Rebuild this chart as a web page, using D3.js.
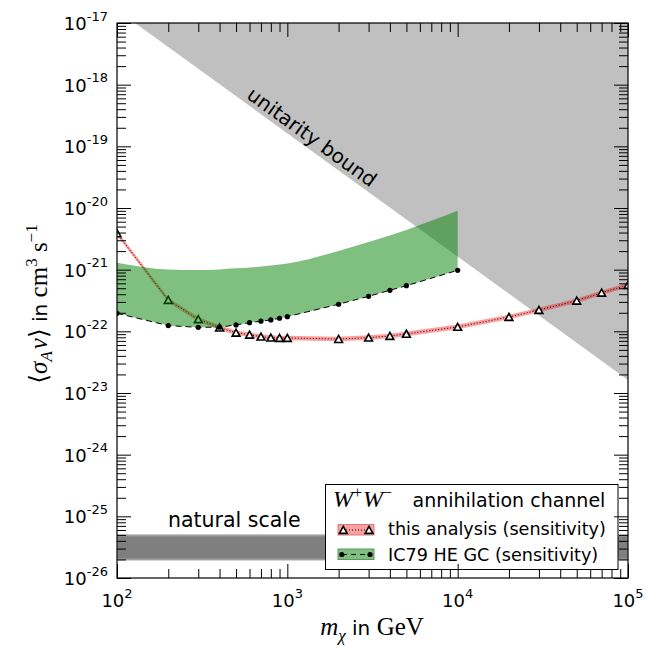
<!DOCTYPE html>
<html>
<head>
<meta charset="utf-8">
<script src="https://cdn.jsdelivr.net/npm/d3@7"></script>
<style>
  html, body { margin: 0; padding: 0; background: #fff; }
  svg { display: block; }
</style>
</head>
<body>
<div id="chart"></div>
<script>
// ---------------- data ----------------
const xDomain = [100, 100000];
const yDomain = [1e-26, 1e-17];
const xMajorTicks = [100, 1000, 10000, 100000];
const xTickExponents = ["2", "3", "4", "5"];
const yMajorTicks = [1e-26, 1e-25, 1e-24, 1e-23, 1e-22, 1e-21, 1e-20, 1e-19, 1e-18, 1e-17];
const yTickExponents = ["-26", "-25", "-24", "-23", "-22", "-21", "-20", "-19", "-18", "-17"];

// IC79 HE GC sensitivity (green band, lower edge = dashed line with dots)
const ic79Mass  = [100, 200, 300, 400, 500, 600, 700, 800, 900, 1000, 2000, 3000, 4000, 5000, 10000];
const ic79Lower = [1.96e-22, 1.24e-22, 1.16e-22, 1.17e-22, 1.27e-22, 1.38e-22, 1.46e-22, 1.53e-22, 1.63e-22, 1.73e-22, 2.75e-22, 3.70e-22, 4.63e-22, 5.50e-22, 9.77e-22];
const ic79Upper = [1.30e-21, 1.01e-21, 9.9e-22, 1.01e-21, 1.05e-21, 1.08e-21, 1.13e-21, 1.17e-21, 1.21e-21, 1.26e-21, 2.01e-21, 2.81e-21, 3.58e-21, 4.40e-21, 9.0e-21];

// this analysis sensitivity (red band with dotted line and triangles)
const thisMass  = [100, 200, 300, 400, 500, 600, 700, 800, 900, 1000, 2000, 3000, 4000, 5000, 10000, 20000, 30000, 50000, 70000, 100000];
const thisValue = [3.89e-21, 3.22e-22, 1.57e-22, 1.15e-22, 9.5e-23, 8.8e-23, 8.2e-23, 7.9e-23, 7.8e-23, 7.8e-23, 7.5e-23, 7.9e-23, 8.4e-23, 9.1e-23, 1.18e-22, 1.71e-22, 2.22e-22, 3.14e-22, 4.23e-22, 5.65e-22];
const thisBandFactor = 1.09;

// unitarity bound (gray region above the line)
const unitarityMass  = [127.6, 100000, 100000];
const unitarityValue = [1e-17, 1.63e-23, 1e-17];

// natural scale band
const naturalRange = [2.0e-26, 4.9e-26];

// text
const legendTitle = "annihilation channel";
const legendLabels = ["this analysis (sensitivity)", "IC79 HE GC (sensitivity)"];

// ---------------- layout ----------------
const W = 652, H = 647;
const L = 117, R = 628, T = 23, B = 578;
const SANS = "'DejaVu Sans', sans-serif";
const SERIF = "'Liberation Serif', 'DejaVu Serif', serif";

const svg = d3.select("#chart").append("svg").attr("width", W).attr("height", H);

const x = d3.scaleLog().domain(xDomain).range([L, R]);
const y = d3.scaleLog().domain(yDomain).range([B, T]);

svg.append("clipPath").attr("id", "plotclip")
  .append("rect").attr("x", L).attr("y", T).attr("width", R - L).attr("height", B - T);

const plot = svg.append("g").attr("clip-path", "url(#plotclip)");

// unitarity region
plot.append("path")
  .attr("d", d3.line()(unitarityMass.map((m, i) => [x(m), y(unitarityValue[i])])) + "Z")
  .attr("fill", "#c0c0c0");

// natural scale band
plot.append("rect")
  .attr("x", x(xDomain[0])).attr("width", x(xDomain[1]) - x(xDomain[0]))
  .attr("y", y(naturalRange[1])).attr("height", y(naturalRange[0]) - y(naturalRange[1]))
  .attr("fill", "#7f7f7f").attr("stroke", "#9e9e9e").attr("stroke-width", 2);

// this analysis
const thisData = thisMass.map((m, i) => ({ m, v: thisValue[i] }));
plot.append("path")
  .attr("d", d3.area().x(d => x(d.m)).y0(d => y(d.v / thisBandFactor)).y1(d => y(d.v * thisBandFactor))(thisData))
  .attr("fill", "red").attr("fill-opacity", 0.38);
plot.append("path")
  .attr("d", d3.line().x(d => x(d.m)).y(d => y(d.v))(thisData))
  .attr("fill", "none").attr("stroke", "#000").attr("stroke-width", 1).attr("stroke-dasharray", "1,2");

const triType = { draw(ctx) { ctx.moveTo(0, -3.6); ctx.lineTo(3.9, 3.4); ctx.lineTo(-3.9, 3.4); ctx.closePath(); } };
const triPath = d3.symbol().type(triType)();
plot.selectAll(".tri").data(thisData).enter().append("path")
  .attr("d", triPath)
  .attr("transform", d => `translate(${x(d.m)},${y(d.v)})`)
  .attr("fill", "#fff").attr("stroke", "#000").attr("stroke-width", 1.6);

// IC79 band: smooth upper edge, straight lower edge
const icData = ic79Mass.map((m, i) => ({ m, lo: ic79Lower[i], hi: ic79Upper[i] }));
const upperPath = d3.line().curve(d3.curveMonotoneX).x(d => x(d.m)).y(d => y(d.hi))(icData);
const lowerRev = icData.slice().reverse().map(d => `L${x(d.m)},${y(d.lo)}`).join("");
plot.append("path")
  .attr("d", upperPath + lowerRev + "Z")
  .attr("fill", "green").attr("fill-opacity", 0.5);
plot.append("path")
  .attr("d", d3.line().x(d => x(d.m)).y(d => y(d.lo))(icData))
  .attr("fill", "none").attr("stroke", "#000").attr("stroke-width", 1).attr("stroke-dasharray", "6,4");
plot.selectAll(".dot").data(icData).enter().append("circle")
  .attr("cx", d => x(d.m)).attr("cy", d => y(d.lo)).attr("r", 2.6).attr("fill", "#000");

// annotations
const slopeAngle = Math.atan2(y(unitarityValue[1]) - y(unitarityValue[0]), x(unitarityMass[1]) - x(unitarityMass[0])) * 180 / Math.PI;
svg.append("text")
  .attr("transform", `translate(312,137) rotate(${slopeAngle})`)
  .attr("text-anchor", "middle").attr("dominant-baseline", "central")
  .style("font-family", SANS).style("font-size", "20px").attr("fill", "#000")
  .text("unitarity bound");

svg.append("text")
  .attr("x", 168).attr("y", 527)
  .style("font-family", SANS).style("font-size", "20.5px")
  .text("natural scale");

// legend
const lg = svg.append("g");
lg.append("rect").attr("x", 325.5).attr("y", 484.5).attr("width", 292.5).attr("height", 85)
  .attr("fill", "#fff").attr("stroke", "#000").attr("stroke-width", 1);
const lt = lg.append("text").attr("x", 333).attr("y", 506.5).style("font-family", SERIF).style("font-size", "24px").style("font-style", "italic");
lt.append("tspan").text("W");
lt.append("tspan").attr("dy", -9).style("font-size", "16px").style("font-style", "normal").text("+");
lt.append("tspan").attr("dy", 9).attr("dx", 1).text("W");
lt.append("tspan").attr("dy", -9).style("font-size", "16px").style("font-style", "normal").text("\u2212");
lg.append("text").attr("x", 412.5).attr("y", 506.5).style("font-family", SANS).style("font-size", "19px").text(legendTitle);

// legend entry 1
lg.append("rect").attr("x", 338).attr("y", 524.5).attr("width", 36).attr("height", 10.5)
  .attr("fill", "red").attr("fill-opacity", 0.38).attr("stroke", "#d08080").attr("stroke-width", 1);
lg.append("line").attr("x1", 343).attr("x2", 369).attr("y1", 530).attr("y2", 530)
  .attr("stroke", "#000").attr("stroke-width", 1).attr("stroke-dasharray", "1,2");
[343.3, 369].forEach(px => lg.append("path").attr("d", triPath).attr("transform", `translate(${px},530)`)
  .attr("fill", "#fff").attr("stroke", "#000").attr("stroke-width", 1.6));
lg.append("text").attr("x", 388).attr("y", 535).style("font-family", SANS).style("font-size", "17.6px").text(legendLabels[0]);

// legend entry 2
lg.append("rect").attr("x", 338).attr("y", 549).attr("width", 36).attr("height", 10.5)
  .attr("fill", "green").attr("fill-opacity", 0.5).attr("stroke", "#5a9a5a").attr("stroke-width", 1);
lg.append("line").attr("x1", 342).attr("x2", 370).attr("y1", 554.5).attr("y2", 554.5)
  .attr("stroke", "#000").attr("stroke-width", 1).attr("stroke-dasharray", "5,4");
[341.8, 370].forEach(px => lg.append("circle").attr("cx", px).attr("cy", 554.5).attr("r", 2.6).attr("fill", "#000"));
lg.append("text").attr("x", 388).attr("y", 560.5).style("font-family", SANS).style("font-size", "17.6px").text(legendLabels[1]);

// ---------------- axes ----------------
function minorTicks(majors) {
  const out = [];
  for (let i = 0; i < majors.length - 1; i++) for (let k = 2; k <= 9; k++) out.push(majors[i] * k);
  return out;
}
const xMinor = minorTicks(xMajorTicks);
const yMinor = minorTicks(yMajorTicks);

function styleAxis(g) {
  g.select(".domain").remove();
  g.selectAll("text").remove();
  g.selectAll("line").attr("stroke", "#000").attr("stroke-width", 1);
}
const axesG = svg.append("g");
axesG.append("g").attr("transform", `translate(0,${B})`).call(d3.axisBottom(x).tickValues(xMajorTicks).tickSize(-14)).call(styleAxis);
axesG.append("g").attr("transform", `translate(0,${B})`).call(d3.axisBottom(x).tickValues(xMinor).tickSize(-9)).call(styleAxis);
axesG.append("g").attr("transform", `translate(0,${T})`).call(d3.axisTop(x).tickValues(xMajorTicks).tickSize(-14)).call(styleAxis);
axesG.append("g").attr("transform", `translate(0,${T})`).call(d3.axisTop(x).tickValues(xMinor).tickSize(-9)).call(styleAxis);
axesG.append("g").attr("transform", `translate(${L},0)`).call(d3.axisLeft(y).tickValues(yMajorTicks).tickSize(-14)).call(styleAxis);
axesG.append("g").attr("transform", `translate(${L},0)`).call(d3.axisLeft(y).tickValues(yMinor).tickSize(-9)).call(styleAxis);
axesG.append("g").attr("transform", `translate(${R},0)`).call(d3.axisRight(y).tickValues(yMajorTicks).tickSize(-14)).call(styleAxis);
axesG.append("g").attr("transform", `translate(${R},0)`).call(d3.axisRight(y).tickValues(yMinor).tickSize(-9)).call(styleAxis);

axesG.append("rect").attr("x", L).attr("y", T).attr("width", R - L).attr("height", B - T)
  .attr("fill", "none").attr("stroke", "#000").attr("stroke-width", 1.2);

// tick labels
xMajorTicks.forEach((v, i) => {
  const t = svg.append("text").attr("x", x(v)).attr("y", 607).attr("text-anchor", "middle")
    .style("font-family", SANS).style("font-size", "18px");
  t.append("tspan").text("10");
  t.append("tspan").attr("dy", -9).style("font-size", "13px").text(xTickExponents[i]);
});
yMajorTicks.forEach((v, i) => {
  const t = svg.append("text").attr("x", 108).attr("y", y(v) + 7).attr("text-anchor", "end")
    .style("font-family", SANS).style("font-size", "18px");
  t.append("tspan").text("10");
  t.append("tspan").attr("dy", -9.5).style("font-size", "13px").text(yTickExponents[i]);
});

// axis labels
const xl = svg.append("text").attr("x", 372).attr("y", 635).attr("text-anchor", "middle").style("font-size", "25px");
xl.append("tspan").style("font-family", SERIF).style("font-style", "italic").text("m");
xl.append("tspan").attr("dy", 6).style("font-family", SERIF).style("font-style", "italic").style("font-size", "17px").text("\u03C7");
xl.append("tspan").attr("dy", -6).style("font-family", SANS).style("font-size", "20px").text(" in ");
xl.append("tspan").style("font-family", SERIF).text("GeV");

const yl = svg.append("text").attr("transform", "translate(47,304) rotate(-90)").attr("text-anchor", "middle").style("font-size", "25px");
yl.append("tspan").style("font-family", SERIF).text("\u27E8");
yl.append("tspan").style("font-family", SERIF).style("font-style", "italic").text("\u03C3");
yl.append("tspan").attr("dy", 5).style("font-family", SERIF).style("font-style", "italic").style("font-size", "17px").text("A");
yl.append("tspan").attr("dy", -5).attr("dx", 2).style("font-family", SERIF).style("font-style", "italic").text("v");
yl.append("tspan").style("font-family", SERIF).text("\u27E9");
yl.append("tspan").style("font-family", SANS).style("font-size", "20px").text(" in ");
yl.append("tspan").style("font-family", SERIF).text("cm");
yl.append("tspan").attr("dy", -10).style("font-family", SERIF).style("font-size", "17px").text("3");
yl.append("tspan").attr("dy", 10).style("font-family", SERIF).text(" s");
yl.append("tspan").attr("dy", -10).style("font-family", SERIF).style("font-size", "17px").text("\u22121");
</script>
</body>
</html>
